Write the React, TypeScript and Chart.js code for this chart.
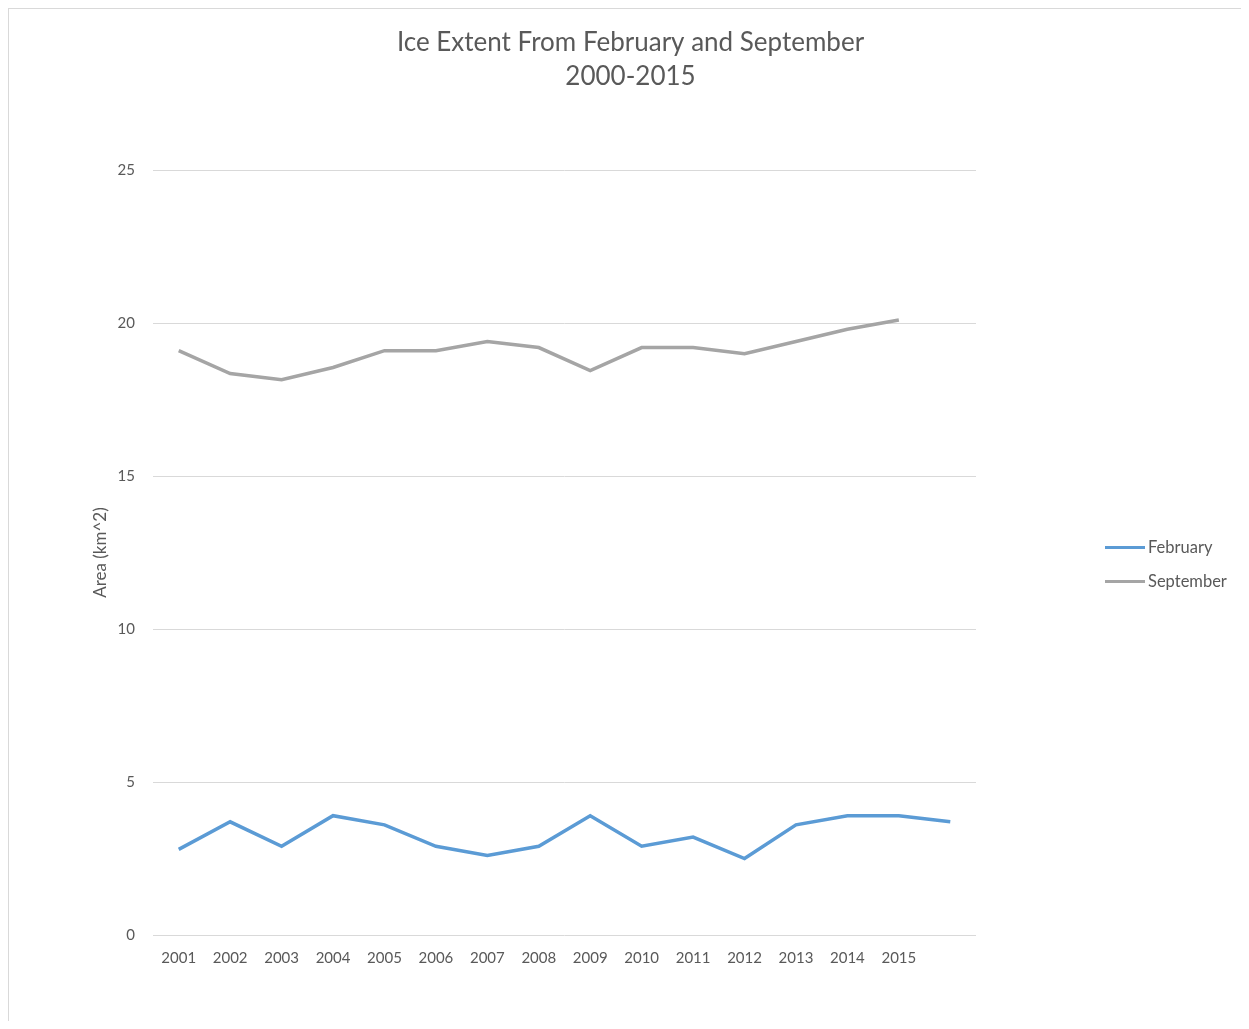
import React, { useEffect, useRef } from "react";
import { Chart, registerables } from "chart.js";

Chart.register(...registerables);

const years = ["2001", "2002", "2003", "2004", "2005", "2006", "2007", "2008", "2009", "2010", "2011", "2012", "2013", "2014", "2015", ""];
const february = [2.8, 3.7, 2.9, 3.9, 3.6, 2.9, 2.6, 2.9, 3.9, 2.9, 3.2, 2.5, 3.6, 3.9, 3.9, 3.7];
const september = [19.1, 18.35, 18.15, 18.55, 19.1, 19.1, 19.4, 19.2, 18.45, 19.2, 19.2, 19.0, 19.4, 19.8, 20.1];
const yTicks = [0, 5, 10, 15, 20, 25];

const FONT = "Lato, 'Open Sans', sans-serif";
const TEXT = "#595959";

const legendPlugin = {
  id: "sideLegend",
  afterDraw(chart: any) {
    const { ctx, chartArea } = chart;
    const cy = (chartArea.top + chartArea.bottom) / 2;
    const x0 = chartArea.right + 129;
    ctx.save();
    chart.data.datasets.forEach((ds: any, i: number) => {
      const y = cy - 5 + i * 34;
      ctx.strokeStyle = ds.borderColor;
      ctx.lineWidth = 3;
      ctx.lineCap = "butt";
      ctx.beginPath();
      ctx.moveTo(x0, y);
      ctx.lineTo(x0 + 40, y);
      ctx.stroke();
      ctx.fillStyle = TEXT;
      ctx.font = "16.5px " + FONT;
      ctx.textBaseline = "middle";
      ctx.textAlign = "left";
      ctx.fillText(ds.label, x0 + 43, y);
    });
    ctx.restore();
  },
};

export default function App() {
  const ref = useRef<HTMLCanvasElement | null>(null);
  useEffect(() => {
    if (!ref.current) return;
    const chart = new Chart(ref.current, {
      type: "line",
      data: {
        labels: years,
        datasets: [
          {
            label: "February",
            data: february,
            borderColor: "#5B9BD5",
            backgroundColor: "#5B9BD5",
            borderWidth: 3.5,
            pointRadius: 0,
            tension: 0,
          },
          {
            label: "September",
            data: september,
            borderColor: "#A5A5A5",
            backgroundColor: "#A5A5A5",
            borderWidth: 3.5,
            pointRadius: 0,
            tension: 0,
          },
        ],
      },
      options: {
        animation: false,
        responsive: true,
        maintainAspectRatio: false,
        layout: { padding: { left: 11, right: 0, top: 0, bottom: 46 } },
        plugins: {
          legend: { display: false },
          tooltip: { enabled: false },
          title: {
            display: true,
            text: ["Ice Extent From February and September", "2000-2015"],
            color: TEXT,
            font: { family: FONT, size: 26, weight: "normal", lineHeight: 1.31 },
            padding: { top: 17, bottom: 76 },
          },
        },
        scales: {
          x: {
            type: "category",
            offset: true,
            grid: { display: false, drawTicks: false },
            border: { display: false },
            ticks: {
              color: TEXT,
              font: { family: FONT, size: 15 },
              padding: 14,
              autoSkip: false,
              maxRotation: 0,
            },
            afterFit: (s: any) => {
              s.height = 40;
            },
          },
          y: {
            min: 0,
            max: 25,
            afterBuildTicks: (s: any) => {
              s.ticks = yTicks.map((v) => ({ value: v }));
            },
            grid: { color: "#D9D9D9", lineWidth: 1, drawTicks: false },
            border: { display: false },
            ticks: {
              color: TEXT,
              font: { family: FONT, size: 15 },
              padding: 18,
            },
            title: {
              display: true,
              text: "Area (km^2)",
              color: TEXT,
              font: { family: FONT, size: 17, weight: "normal", lineHeight: 1.2 },
              padding: { top: 70, bottom: 0 },
            },
            afterFit: (s: any) => {
              s.width = 133;
            },
          },
          spacer: {
            type: "linear",
            position: "right",
            display: true,
            grid: { display: false, drawTicks: false },
            border: { display: false },
            ticks: { display: false },
            afterFit: (s: any) => {
              s.width = 265;
            },
          },
        },
      },
      plugins: [legendPlugin],
    });
    return () => chart.destroy();
  }, []);

  return (
    <div
      style={{
        position: "relative",
        width: 1233,
        height: 1013,
        borderLeft: "1px solid #D9D9D9",
        borderTop: "1px solid #D9D9D9",
        boxSizing: "border-box",
        background: "#fff",
      }}
    >
      <canvas ref={ref} />
    </div>
  );
}
